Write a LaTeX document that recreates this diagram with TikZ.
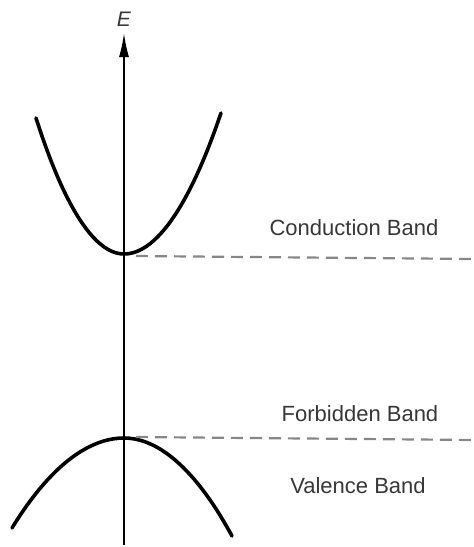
\documentclass[tikz,border=0pt]{standalone}
\usepackage{fontspec}
\setmainfont{Liberation Sans}
\usepackage{tikz}
\usetikzlibrary{arrows.meta, positioning, calc}
\definecolor{LabelGray}{RGB}{55,55,55}
\definecolor{DashGray}{RGB}{135,135,135}

\begin{document}
\begin{tikzpicture}[x=1pt, y=-1pt,
    band/.style={line width=3.6pt, line cap=round},
    level/.style={DashGray, line width=2.2pt, dash pattern=on 12pt off 7pt},
    lbl/.style={font=\fontsize{22}{26}\selectfont, text=LabelGray, inner sep=0pt}]
    \useasboundingbox (0,0) rectangle (474,547);

    % --- Energy axis ---
    \coordinate (ax0) at (124,545);
    \coordinate (ax1) at (124,33);
    \draw[line width=1.8pt, -{Latex[length=24pt,width=10pt]}] (ax0) -- (ax1);
    \node[lbl, font=\fontsize{21}{25}\selectfont\itshape] (E) at (124,19) {E};

    % --- Conduction band ---
    \coordinate (cb1) at (36,118);
    \coordinate (cb0) at (124,254);
    \coordinate (cb2) at (221,113);
    \draw[band] (cb1) parabola bend (cb0) (cb2);
    \coordinate (cbend) at (474,259);
    \draw[level] ($(cb0)+(12,2)$) -- (cbend);
    \node[lbl] (cond) at (354,228) {Conduction Band};

    % --- Valence band ---
    \coordinate (vb1) at (12,528);
    \coordinate (vb0) at (124,438);
    \coordinate (vb2) at (232,536);
    \draw[band] (vb1) parabola bend (vb0) (vb2);
    \coordinate (vbend) at (474,440);
    \draw[level] ($(vb0)+(12,-1)$) -- (vbend);
    \node[lbl] (forb) at (360,414) {Forbidden Band};
    \node[lbl] (val) at (358,486) {Valence Band};
\end{tikzpicture}
\end{document}
